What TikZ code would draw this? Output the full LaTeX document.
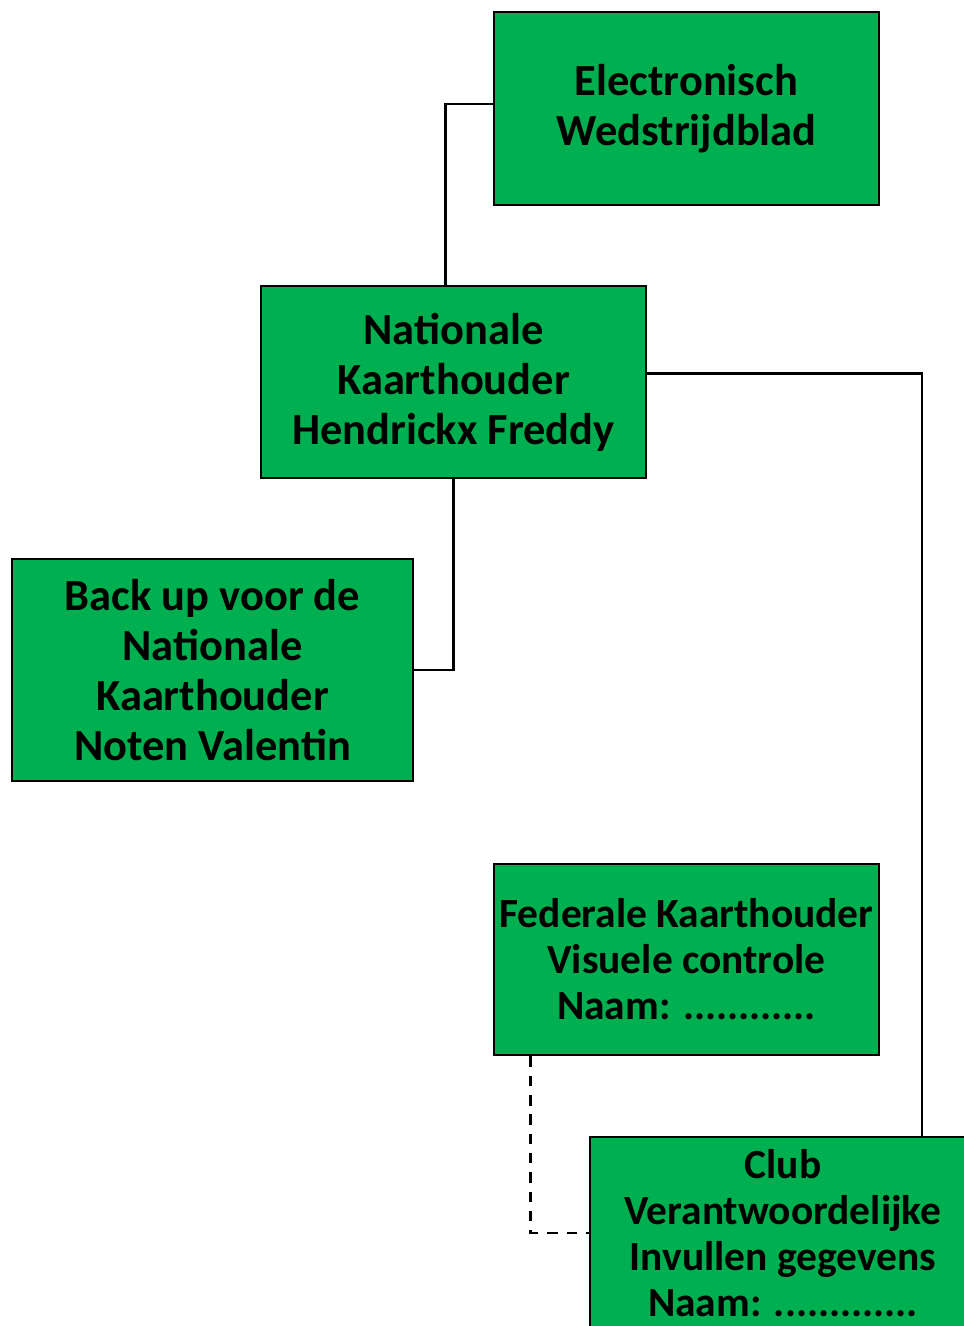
\documentclass[tikz,border=0pt]{standalone}
\usepackage{fontspec}
\setmainfont{Carlito}
\usepackage{tikz}
\definecolor{kaartgreen}{RGB}{0,176,80}

\begin{document}
\begin{tikzpicture}[x=0.02cm, y=-0.02cm,
  kaart/.style={draw, rectangle, fill=kaartgreen, line width=1.5pt, align=center, inner sep=1pt, font=\bfseries\fontsize{25.3}{28.4}\selectfont},
  kaartklein/.style={kaart, font=\bfseries\fontsize{23.6}{26.2}\selectfont},
  lijn/.style={line width=1.5pt}]
\clip (0,0) rectangle (964,1326);
\fill[white] (0,0) rectangle (964,1326);
\node[kaart, minimum width=7.7cm, minimum height=3.86cm] (ewb) at (686.5,108.5) {Electronisch\\Wedstrijdblad};
\node[kaart, minimum width=7.7cm, minimum height=3.84cm] (nat) at (453.5,382) {Nationale\\Kaarthouder\\Hendrickx Freddy};
\node[kaart, minimum width=8.02cm, minimum height=4.44cm] (backup) at (212.5,670) {Back up voor de\\Nationale\\Kaarthouder\\Noten Valentin};
\node[kaartklein, minimum width=7.7cm, minimum height=3.82cm] (fed) at (686.5,959.5) {Federale Kaarthouder\\Visuele controle\\Naam: ............};
\node[kaartklein, minimum width=7.72cm, minimum height=3.84cm] (club) at (783,1233) {Club\\Verantwoordelijke\\Invullen gegevens\\Naam: .............};
\coordinate (clubtop) at (922,1137);
\draw[lijn] ([yshift=2.5pt]ewb.west) -| ([xshift=-0.16cm]nat.north);
\draw[lijn] (nat.south) |- (backup.east);
\draw[lijn] ([yshift=5pt]nat.east) -| (clubtop);
\draw[lijn, dash pattern=on 6pt off 5pt] ([xshift=0.76cm]fed.south west) |- (club.west);
\end{tikzpicture}
\end{document}
